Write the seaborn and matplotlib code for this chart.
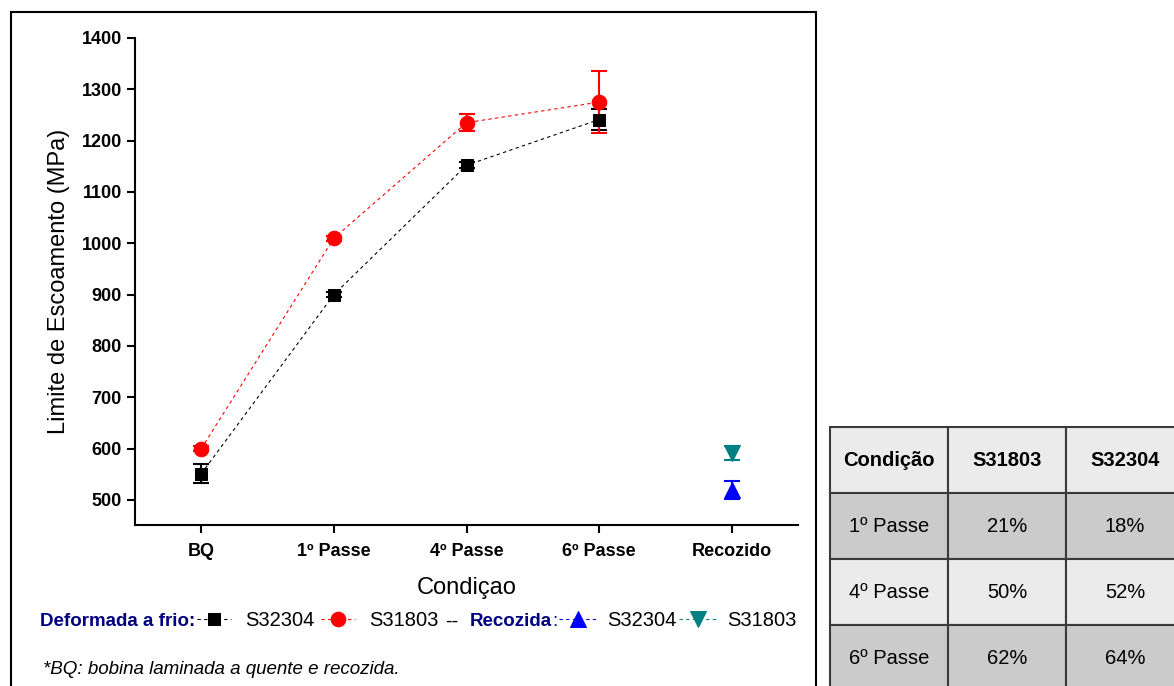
import numpy as np
import pandas as pd
import matplotlib
matplotlib.use("Agg")
import matplotlib.pyplot as plt
import matplotlib.patches as mpatches
import seaborn as sns

conditions = ["BQ", "1º Passe", "4º Passe", "6º Passe", "Recozido"]
cold_conditions = ["BQ", "1º Passe", "4º Passe", "6º Passe"]
cold_s32304 = [551, 900, 1152, 1241]
cold_s32304_err = [18, 5, 6, 21]
cold_s31803 = [600, 1010, 1235, 1275]
cold_s31803_err = [5, 5, 17, 60]
rec_s32304 = [519]
rec_s32304_err = [17]
rec_s31803 = [591]
rec_s31803_err = [13]

table_cols = ["Condição", "S31803", "S32304"]
table_rows = [["1º Passe", "21%", "18%"],
              ["4º Passe", "50%", "52%"],
              ["6º Passe", "62%", "64%"]]

sns.set_style("ticks")
plt.rcParams['font.family'] = ['Liberation Sans', 'DejaVu Sans']
for k in ["text.color", "axes.labelcolor", "xtick.color", "ytick.color"]:
    plt.rcParams[k] = "black"

W, H = 1174, 686
fig = plt.figure(figsize=(W / 100, H / 100), dpi=100)
ax = fig.add_axes([135 / W, 1 - 525 / H, (798 - 135) / W, (525 - 38) / H])

def pos(names):
    return [conditions.index(n) for n in names]

series = [
    (cold_conditions, cold_s32304, cold_s32304_err, "black", "s", 9, "S32304"),
    (cold_conditions, cold_s31803, cold_s31803_err, "#ff0000", "o", 10.5, "S31803"),
    (["Recozido"], rec_s32304, rec_s32304_err, "#0000ff", "^", 11, "S32304"),
    (["Recozido"], rec_s31803, rec_s31803_err, "#008080", "v", 11, "S31803"),
]
handles = []
for names, vals, errs, col, mk, ms, lab in series:
    df = pd.DataFrame({"x": pos(names), "y": vals})
    ax.errorbar(df["x"], df["y"], yerr=errs, fmt="none", ecolor=col,
                elinewidth=1.5, capsize=6, capthick=1.5, zorder=2)
    sns.lineplot(data=df, x="x", y="y", ax=ax, color=col, marker=mk,
                 markersize=ms, markeredgecolor=col, linewidth=0.8,
                 linestyle=(0, (3, 3)), zorder=3)
    handles.append(ax.get_lines()[-1])

ax.set_xlim(-0.5, 4.5)
ax.set_ylim(451, 1400)
ax.set_xticks(range(len(conditions)))
ax.set_xticklabels(conditions)
ax.set_yticks(np.arange(500, 1401, 100))
for lbl in ax.get_xticklabels() + ax.get_yticklabels():
    lbl.set_fontweight("bold")
ax.tick_params(axis="both", direction="out", length=6, width=1.5,
               labelsize=13)
ax.tick_params(axis="x", pad=7)
sns.despine(ax=ax)
for s in ["left", "bottom"]:
    ax.spines[s].set_linewidth(1.5)
    ax.spines[s].set_color("black")
ax.set_xlabel("Condiçao", fontsize=17, labelpad=12)
ax.set_ylabel("Limite de Escoamento (MPa)", fontsize=17, labelpad=8)

# legend row
ly = 1 - 621 / H
navy = "#000080"
fig.text(40 / W, ly, "Deformada a frio:", fontsize=13.5, fontweight="bold",
         color=navy, va="center", ha="left")
leg_kw = dict(loc="center left", ncol=2, frameon=False, fontsize=14.5,
              borderpad=0, borderaxespad=0)
leg1 = fig.legend(handles[:2], ["S32304", "S31803"], handlelength=1.7,
                  handletextpad=0.7, columnspacing=0.3,
                  bbox_to_anchor=(197 / W, ly), **leg_kw)
fig.text(445 / W, ly, "--", fontsize=14.5, va="center", ha="left")
rec_txt = fig.text(470 / W, ly, "Recozida", fontsize=13.5, fontweight="bold",
                   color=navy, va="center", ha="left")
fig.canvas.draw()
bb = rec_txt.get_window_extent()
fig.text(bb.x1 / W, ly, ":", fontsize=13.5, color=navy, va="center", ha="left")
leg2 = fig.legend(handles[2:], ["S32304", "S31803"], handlelength=1.9,
                  handletextpad=0.5, columnspacing=0.1,
                  bbox_to_anchor=(559 / W, ly), **leg_kw)

fig.text(43 / W, 1 - 669 / H, "*BQ: bobina laminada a quente e recozida.",
         fontsize=13.5, style="italic", va="center", ha="left")

fig.patches.append(mpatches.Rectangle((11 / W, -0.1), (816 - 11) / W,
                                      (H - 12) / H + 0.1, fill=False,
                                      edgecolor="black", linewidth=1.5,
                                      transform=fig.transFigure, figure=fig))

# table
tax = fig.add_axes([830 / W, (H - 691) / H, 354 / W, 264 / H])
tax.axis("off")
tbl = tax.table(cellText=table_rows, colLabels=table_cols, cellLoc="center",
                bbox=[0, 0, 1, 1])
tbl.auto_set_font_size(False)
for (r, c), cell in tbl.get_celld().items():
    cell.set_edgecolor("#3a3a3a")
    cell.set_linewidth(1.5)
    cell.set_facecolor("#cbcbcb" if r % 2 == 1 else "#ebebeb")
    cell.get_text().set_fontsize(14.5)
    if r == 0:
        cell.get_text().set_fontweight("bold")

fig.savefig("out.png", dpi=100)
